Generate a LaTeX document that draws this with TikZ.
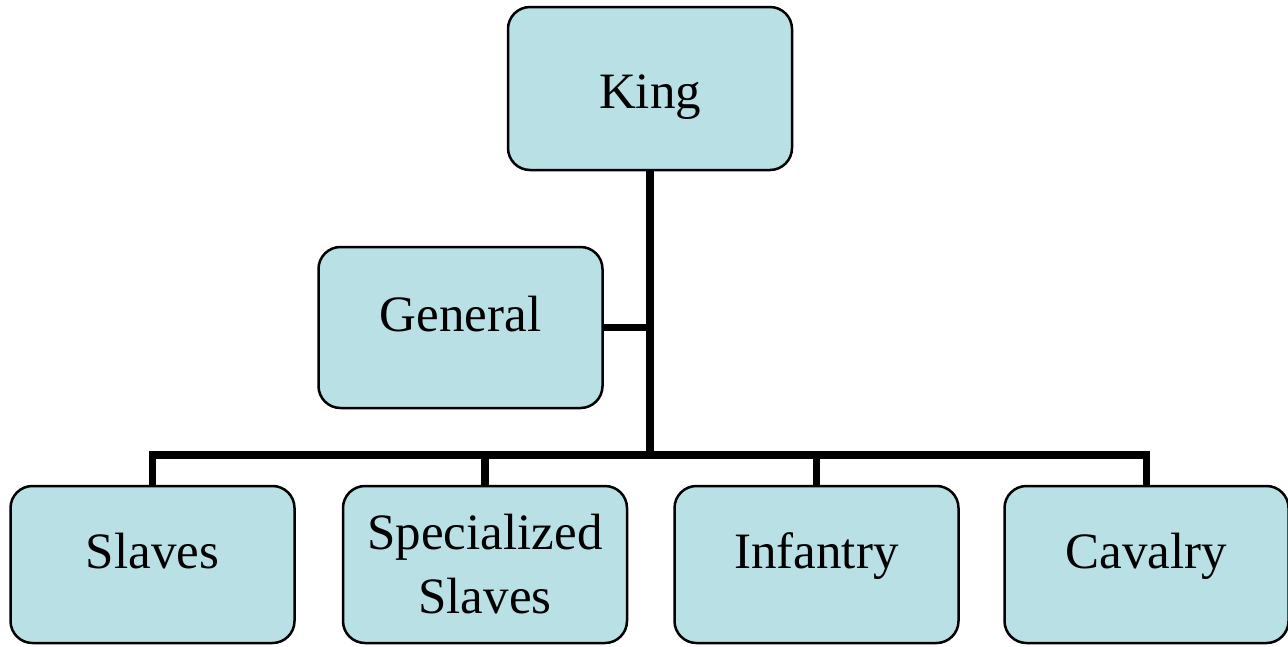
\documentclass[tikz,border=0pt]{standalone}
\usepackage{fontspec}
\setmainfont{Liberation Serif}
\usetikzlibrary{positioning,calc}
\definecolor{boxfill}{RGB}{185,224,228}

\begin{document}
\begin{tikzpicture}[x=1pt,y=-1pt,
  rank/.style={draw,line width=2.5pt,fill=boxfill,rounded corners=22pt,
    minimum width=284pt,inner sep=0pt,font=\fontsize{51}{64}\selectfont,
    align=center,text height=36pt,text depth=28pt},
  link/.style={line width=7.5pt}]
\useasboundingbox (0,0) rectangle (1288,646);

\node[rank,minimum height=163pt,text height=46pt,text depth=6pt] (king) at (650,88.5) {King};
\node[rank,minimum height=161pt] (general) at (460.5,327.5) {General};

\node[rank,minimum height=157pt] (slaves) at (152.5,564.5) {Slaves};
\node[rank,minimum height=157pt,text height=,text depth=] (spec) at (485,564.5) {Specialized\\Slaves};
\node[rank,minimum height=157pt] (inf) at (816.5,564.5) {Infantry};
\node[rank,minimum height=157pt] (cav) at (1146.5,564.5) {Cavalry};

\coordinate (bus) at (650,455);

\draw[link] (king.south) -- (bus);
\draw[link] (general.east) -- (general.east -| bus);
\draw[link] (slaves.north) |- (bus) -| (cav.north);
\draw[link] (spec.north) -- (spec.north |- bus);
\draw[link] (inf.north) -- (inf.north |- bus);

\end{tikzpicture}
\end{document}
